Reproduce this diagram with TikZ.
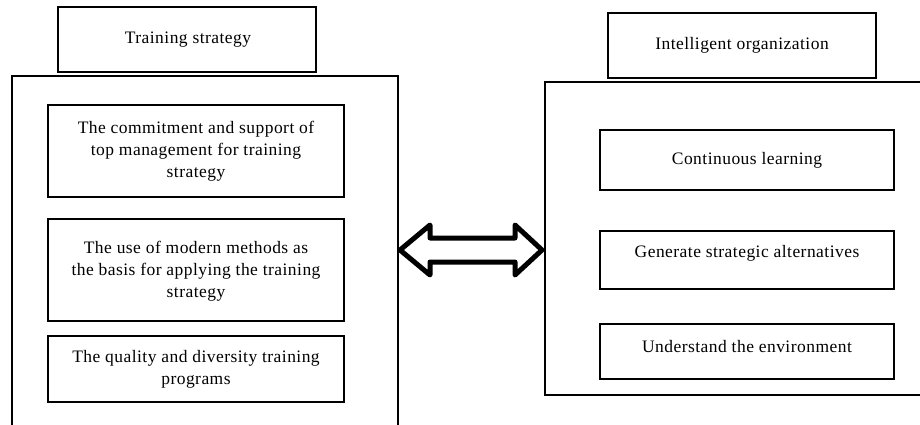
\documentclass[tikz,border=0pt]{standalone}
\usepackage{fontspec}
\setmainfont{Liberation Serif}
\begin{document}
\begin{tikzpicture}[x=1pt,y=-1pt,
  box/.style={draw=black,line width=2.6pt,fill=white,inner sep=0pt},
  txt/.style={align=center,font=\fontsize{17.5}{22}\selectfont\addfontfeature{LetterSpace=2.6},inner sep=0pt}]
\useasboundingbox (0,0) rectangle (920,425);
% left side
\node[box,minimum width=386pt,minimum height=350pt] (lbig) at (205,251) {};
\node[box,minimum width=258pt,minimum height=65pt] (ltitle) at (187,39.5) {};
\node[txt] (lttext) at (188,40) {Training strategy};
\node[box,minimum width=296pt,minimum height=92pt] (l1) at (196,151) {};
\node[txt] (l1t) at (196,151) {The commitment and support of\\top management for training\\strategy};
\node[box,minimum width=296pt,minimum height=102pt] (l2) at (196,270) {};
\node[txt] (l2t) at (196,271) {The use of modern methods as\\the basis for applying the training\\strategy};
\node[box,minimum width=296pt,minimum height=66pt] (l3) at (196,369) {};
\node[txt] (l3t) at (196,369) {The quality and diversity training\\programs};
% right side
\node[box,minimum width=400pt,minimum height=313pt] (rbig) at (745,238.5) {};
\node[box,minimum width=268pt,minimum height=65pt] (rtitle) at (742,45.5) {};
\node[txt] (rttext) at (742,45) {Intelligent organization};
\node[box,minimum width=294pt,minimum height=60pt] (r1) at (747,160) {};
\node[txt] (r1t) at (747,160) {Continuous learning};
\node[box,minimum width=294pt,minimum height=58pt] (r2) at (747,260) {};
\node[txt] (r2t) at (747,253) {Generate strategic alternatives};
\node[box,minimum width=294pt,minimum height=55pt] (r3) at (747,351.5) {};
\node[txt] (r3t) at (747,347) {Understand the environment};
% double arrow
\coordinate (al) at (400,250);
\coordinate (ar) at (542,250);
\draw[line width=5pt,line join=round,fill=white]
  (al) -- (430,225) -- (430,238) -- (515,238) -- (515,225) -- (ar)
  -- (515,275) -- (515,262) -- (430,262) -- (430,275) -- cycle;
\end{tikzpicture}
\end{document}
